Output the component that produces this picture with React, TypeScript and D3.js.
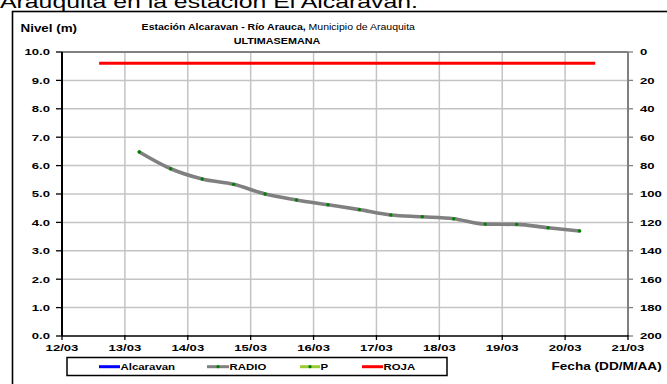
import React from "react";
import * as d3 from "d3";

const dates = [
  "2000-03-13T05:30", "2000-03-13T17:30", "2000-03-14T05:30", "2000-03-14T17:30",
  "2000-03-15T05:30", "2000-03-15T17:30", "2000-03-16T05:30", "2000-03-16T17:30",
  "2000-03-17T05:30", "2000-03-17T17:30", "2000-03-18T05:30", "2000-03-18T17:30",
  "2000-03-19T05:30", "2000-03-19T17:30", "2000-03-20T05:30",
];
const radioLevels = [6.48, 5.89, 5.53, 5.34, 5.0, 4.79, 4.62, 4.45, 4.26, 4.2, 4.13, 3.94, 3.93, 3.81, 3.7];
const rojaDates = ["2000-03-12T14:10", "2000-03-20T11:30"];
const rojaLevels = [9.6, 9.6];
const leftTicks = [0, 1, 2, 3, 4, 5, 6, 7, 8, 9, 10];
const rightTicks = [0, 20, 40, 60, 80, 100, 120, 140, 160, 180, 200];
const legendItems = ["Alcaravan", "RADIO", "P", "ROJA"];

const FONT = "Arial, 'Liberation Sans', sans-serif";

function T({ x, y, sx = 1.38, size = 9.5, anchor = "start", weight = "bold", children }: any) {
  return (
    <text
      transform={`translate(${x},${y}) scale(${sx},1)`}
      fontSize={size}
      fontWeight={weight}
      textAnchor={anchor}
      dominantBaseline="central"
      fontFamily={FONT}
      fill="#000"
    >
      {children}
    </text>
  );
}

export default function App() {
  const W = 667, H = 384;
  const L = 62, R = 628, TOP = 52, BOT = 336;
  const parse = (s: string) => new Date(s);
  const x = d3.scaleTime().domain([parse("2000-03-12T00:00"), parse("2000-03-21T00:00")]).range([L, R]);
  const y = d3.scaleLinear().domain([0, 10]).range([BOT, TOP]);
  const y2 = d3.scaleLinear().domain([0, 200]).range([TOP, BOT]);
  const xTicks = x.ticks(d3.timeDay.every(1) as any);
  const fmt = d3.timeFormat("%d/%m");

  const pts = dates.map((d, i) => [x(parse(d)), y(radioLevels[i])] as [number, number]);
  const line = d3.line().curve(d3.curveMonotoneX)(pts) || "";
  const rojaPts = rojaDates.map((d, i) => [x(parse(d)), y(rojaLevels[i])] as [number, number]);
  const rojaLine = d3.line()(rojaPts) || "";

  const legendPos = [
    { x1: 99, x2: 120, color: "#0000ff", dot: null },
    { x1: 207, x2: 229, color: "#808080", dot: "#008000" },
    { x1: 300, x2: 320, color: "#99cc33", dot: "#008000" },
    { x1: 362, x2: 383, color: "#ff0000", dot: null },
  ];
  const LY = 366.7;

  return (
    <svg width={W} height={H} style={{ position: "absolute", left: 0, top: 0, display: "block", background: "#fff" }}>
      <rect x={0} y={0} width={W} height={H} fill="#fff" />
      {/* page title (cut) */}
      <text x={0} y={7.5} fontSize={19} fontFamily={FONT} textLength={418} lengthAdjust="spacingAndGlyphs" fill="#000">
        Arauquita en la estación El Alcaravan.
      </text>
      {/* chart frame */}
      <rect x={12.5} y={11.5} width={W} height={H} fill="none" stroke="#000" strokeWidth={1.6} />

      {/* header */}
      <T x={20.5} y={29} sx={1.34} size={10}>Nivel (m)</T>
      <text
        transform={`translate(278.3,26) scale(1.12,1)`}
        fontSize={9.4}
        textAnchor="middle"
        dominantBaseline="central"
        fontFamily={FONT}
      >
        <tspan fontWeight="bold">Estación Alcaravan - Río Arauca,</tspan>
        <tspan> Municipio de Arauquita</tspan>
      </text>
      <T x={277} y={40.8} sx={1.1} size={9.8} anchor="middle">ULTIMASEMANA</T>

      {/* grid */}
      {leftTicks.slice(1, -1).map((t) => (
        <line key={"h" + t} x1={L} x2={R} y1={y(t)} y2={y(t)} stroke="#c4c4c4" strokeWidth={1.5} />
      ))}
      {xTicks.slice(1, -1).map((t, i) => (
        <line key={"v" + i} x1={x(t)} x2={x(t)} y1={TOP} y2={BOT} stroke="#c4c4c4" strokeWidth={1.5} />
      ))}
      {/* top & right border (gray) */}
      <line x1={L} x2={R} y1={TOP} y2={TOP} stroke="#808080" strokeWidth={2} />
      <line x1={R} x2={R} y1={TOP} y2={BOT} stroke="#808080" strokeWidth={2} />
      {/* left axis */}
      <line x1={L} x2={L} y1={TOP} y2={BOT} stroke="#000" strokeWidth={2} />
      {leftTicks.map((t) => (
        <g key={"lt" + t}>
          <line x1={L - 6} x2={L} y1={y(t)} y2={y(t)} stroke="#000" strokeWidth={1.3} />
          <T x={50} y={y(t)} anchor="end">{t.toFixed(1)}</T>
        </g>
      ))}
      {/* right axis */}
      {rightTicks.map((t) => (
        <g key={"rt" + t}>
          <line x1={R} x2={R + 5} y1={y2(t)} y2={y2(t)} stroke="#808080" strokeWidth={1.3} />
          <T x={640} y={y2(t)}>{t}</T>
        </g>
      ))}
      {/* bottom axis */}
      <line x1={L} x2={R} y1={BOT} y2={BOT} stroke="#000" strokeWidth={1.6} />
      {xTicks.map((t, i) => (
        <g key={"xt" + i}>
          <line x1={x(t)} x2={x(t)} y1={BOT - 1} y2={BOT + 4} stroke="#000" strokeWidth={1.3} />
          <T x={x(t)} y={347.3} anchor="middle">{fmt(t)}</T>
        </g>
      ))}

      {/* roja line */}
      <path d={rojaLine} stroke="#ff0000" strokeWidth={3} fill="none" />
      {/* radio line */}
      <path d={line} stroke="#808080" strokeWidth={3.6} fill="none" strokeLinecap="round" strokeLinejoin="round" />
      {pts.map((p, i) => (
        <circle key={"p" + i} cx={p[0]} cy={p[1]} r={1.7} fill="#008000" />
      ))}

      {/* legend */}
      <rect x={67} y={357.5} width={380} height={18} fill="#fff" stroke="#000" strokeWidth={1.5} />
      {legendItems.map((name, i) => {
        const lp = legendPos[i];
        return (
          <g key={name}>
            <line x1={lp.x1} x2={lp.x2} y1={LY} y2={LY} stroke={lp.color} strokeWidth={3} />
            {lp.dot && <circle cx={(lp.x1 + lp.x2) / 2} cy={LY} r={1.6} fill={lp.dot} />}
            <T x={lp.x2 + 0.5} y={LY} size={8.4} sx={1.36}>{name}</T>
          </g>
        );
      })}
      <T x={661.7} y={LY} size={10} sx={1.36} anchor="end">Fecha (DD/M/AA)</T>
    </svg>
  );
}
